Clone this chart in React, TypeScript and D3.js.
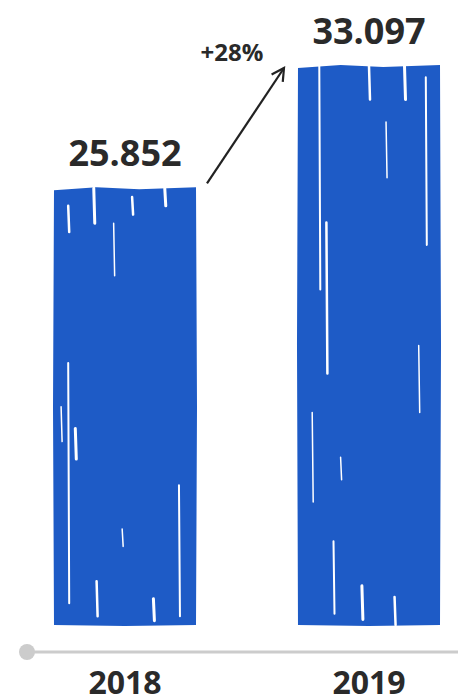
import React from "react";
import * as d3 from "d3";

const years = ["2018", "2019"];
const values = [25.852, 33.097];
const valueLabels = ["25.852", "33.097"];
const growthLabel = "+28%";

// Hand-drawn texture: white scratches given as fractions of the bar box
// [fx, fy0, fy1, strokeWidth]
const scratches: number[][][] = [
  [
    [0.1, 0.04, 0.1, 2.5], [0.28, 0.0, 0.08, 3], [0.42, 0.08, 0.2, 1.5],
    [0.1, 0.4, 0.95, 2], [0.15, 0.55, 0.62, 3], [0.88, 0.68, 0.98, 2],
    [0.48, 0.78, 0.82, 1.5], [0.3, 0.9, 0.98, 2.5], [0.7, 0.94, 0.99, 3],
    [0.55, 0.02, 0.06, 2.5], [0.78, 0.0, 0.04, 3], [0.05, 0.5, 0.58, 1.5],
  ],
  [
    [0.15, 0.0, 0.4, 2], [0.2, 0.28, 0.55, 2.5], [0.5, 0.0, 0.06, 2.5],
    [0.75, 0.0, 0.06, 3], [0.9, 0.02, 0.32, 2], [0.1, 0.62, 0.78, 1.5],
    [0.62, 0.1, 0.2, 1.5], [0.25, 0.85, 0.98, 2], [0.45, 0.93, 0.99, 3],
    [0.68, 0.95, 1.0, 2.5], [0.85, 0.5, 0.62, 1.5], [0.3, 0.7, 0.74, 1.5],
  ],
];

export default function App() {
  const width = 458;
  const height = 699;
  const baseY = 625;

  const x = d3.scaleBand<string>().domain(years).range([54, 440]).paddingInner(0.418).paddingOuter(0);
  const y = d3.scaleLinear().domain([0, d3.max(values)!]).range([baseY, 66]);

  const blue = "#1E5BC6";
  const ink = "#2a2a2a";
  const font = "'Open Sans', sans-serif";

  const bw = x.bandwidth();

  // slightly wobbly outline for a marker-drawn look
  const barPath = (x0: number, y0: number, x1: number, y1: number) => {
    const line = d3.line().curve(d3.curveLinearClosed);
    const pts: [number, number][] = [
      [x0, y0 + 2], [x0 + (x1 - x0) * 0.3, y0 - 1], [x0 + (x1 - x0) * 0.6, y0 + 1], [x1, y0 - 1],
      [x1 + 1, y0 + (y1 - y0) * 0.5], [x1, y1], [x0 + (x1 - x0) * 0.5, y1 + 1], [x0, y1],
      [x0 - 1, y0 + (y1 - y0) * 0.5],
    ];
    return line(pts)!;
  };

  const x1r = x(years[0])! + bw;
  const top1 = y(values[0]);
  const x2l = x(years[1])!;
  const top2 = y(values[1]);
  const ax0 = x1r + 11, ay0 = top1 - 5;
  const ax1 = x2l - 14, ay1 = top2 + 2;
  const ang = Math.atan2(ay1 - ay0, ax1 - ax0);
  const head = 14;
  const spread = 0.5;
  const hp = (a: number) => [ax1 - head * Math.cos(ang + a), ay1 - head * Math.sin(ang + a)];
  const [hx1, hy1] = hp(spread);
  const [hx2, hy2] = hp(-spread);

  return (
    <svg width={width} height={height} style={{ position: "absolute", left: 0, top: 0 }}>
      {years.map((yr, i) => {
        const bx = x(yr)!;
        const by = y(values[i]);
        const bh = baseY - by;
        return (
          <g key={yr}>
            <path d={barPath(bx, by, bx + bw, baseY)} fill={blue} />
            {scratches[i].map((s, j) => (
              <line
                key={j}
                x1={bx + s[0] * bw}
                x2={bx + s[0] * bw + 1}
                y1={by + s[1] * bh}
                y2={by + s[2] * bh}
                stroke="#fff"
                strokeWidth={s[3]}
                strokeLinecap="round"
              />
            ))}
            <text
              x={bx + bw / 2}
              y={by - 22}
              textAnchor="middle"
              fontFamily={font}
              fontWeight={700}
              fontSize={36}
              fill={ink}
            >
              {valueLabels[i]}
            </text>
            <text
              x={bx + bw / 2}
              y={694}
              textAnchor="middle"
              fontFamily={font}
              fontWeight={700}
              fontSize={32}
              fill={ink}
            >
              {yr}
            </text>
          </g>
        );
      })}

      <line x1={27} x2={width} y1={652} y2={652} stroke="#cccccc" strokeWidth={3} />
      <circle cx={27} cy={652} r={8} fill="#cccccc" />

      <line x1={ax0} y1={ay0} x2={ax1} y2={ay1} stroke="#222" strokeWidth={2.2} />
      <polyline
        points={`${hx1},${hy1} ${ax1},${ay1} ${hx2},${hy2}`}
        fill="none"
        stroke="#222"
        strokeWidth={2.2}
        strokeLinejoin="miter"
      />
      <text x={232} y={61} textAnchor="middle" fontFamily={font} fontWeight={700} fontSize={24} fill={ink}>
        {growthLabel}
      </text>
    </svg>
  );
}
